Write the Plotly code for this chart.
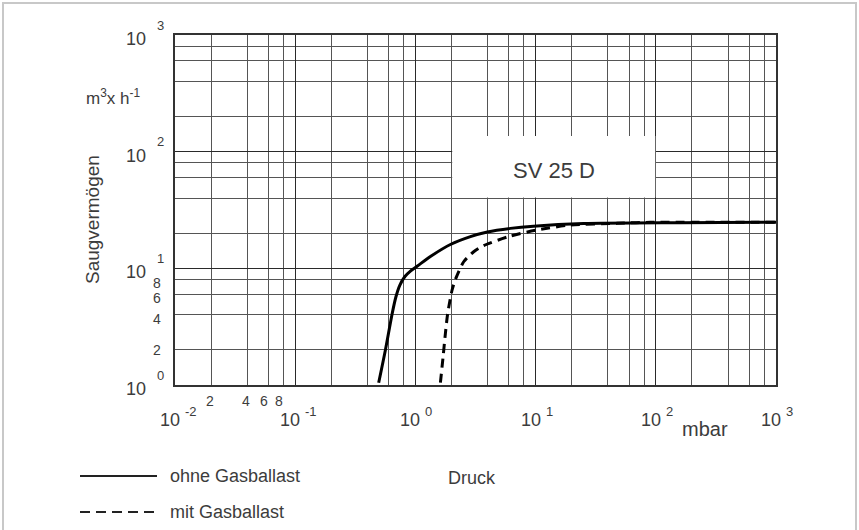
import math
import plotly.graph_objects as go

# ---------------- data ----------------
p_ohne = [0.495, 0.563, 0.640, 0.688, 0.743, 0.818, 0.909, 1.039, 1.333, 1.955, 2.87, 3.97, 6.17, 9.6, 25.0, 158, 1000]
s_ohne = [1.046, 1.995, 4.06, 5.68, 7.19, 8.51, 9.48, 10.46, 12.62, 16.0, 18.7, 20.5, 22.0, 23.0, 24.2, 24.6, 24.8]

p_mit = [1.615, 1.70, 1.777, 1.857, 2.02, 2.151, 2.522, 3.055, 3.70, 6.17, 10.3, 19.5, 47.6, 90, 1000]
s_mit = [1.046, 1.748, 2.773, 4.115, 6.52, 8.02, 11.39, 13.88, 15.68, 18.9, 21.3, 23.5, 24.3, 24.8, 24.8]

x_decades = [-2, -1, 0, 1, 2, 3]
x_sup_text = ["-2", "-1", "0", "1", "2", "3"]
y_decades = [0, 1, 2, 3]
y_sup_text = ["0", "1", "2", "3"]
minor_digits = [2, 4, 6, 8]
minor_labels = ["2", "4", "6", "8"]

series_names = ["ohne Gasballast", "mit Gasballast"]
y_title = "Saugvermögen"
y_unit = "m<sup>3</sup>x h<sup>-1</sup>"
x_unit = "mbar"
x_title = "Druck"
box_text = "SV 25 D"
box_x = [2, 100]
box_y = [40, 136]

FONT = "Liberation Sans"
TXT = "#3c3c3c"
GRID_MAJ = "#2a2a2a"
GRID_MIN = "#555555"

# ---------------- figure ----------------
W, H = 859, 530
L, R, T, B = 175, 83, 35, 145
PW, PH = W - L - R, H - T - B


def px(x):
    return (x - L) / PW


def py(y):
    return (T + PH - y) / PH


fig = go.Figure()
fig.add_trace(go.Scatter(x=p_ohne, y=s_ohne, mode="lines", name=series_names[0],
                         line=dict(color="black", width=3, shape="spline", smoothing=0.7),
                         showlegend=False))
fig.add_trace(go.Scatter(x=p_mit, y=s_mit, mode="lines", name=series_names[1],
                         line=dict(color="black", width=3, dash="9px,6px", shape="spline", smoothing=0.7),
                         showlegend=False))

x_major = [10 ** k for k in x_decades]
x_minor = [d * 10 ** k for k in x_decades[:-1] for d in minor_digits]
y_major = [10 ** k for k in y_decades]
y_minor = [d * 10 ** k for k in y_decades[:-1] for d in minor_digits]

fig.update_xaxes(type="log", range=[x_decades[0], x_decades[-1]],
                 tickmode="array", tickvals=x_major, showticklabels=False, ticks="",
                 showgrid=True, gridcolor=GRID_MAJ, gridwidth=1.2,
                 minor=dict(tickmode="array", tickvals=x_minor, showgrid=True,
                            gridcolor=GRID_MIN, gridwidth=1.2, ticks=""),
                 showline=True, mirror=True, linecolor="#333333", linewidth=1.5,
                 zeroline=False)
fig.update_yaxes(type="log", range=[y_decades[0], y_decades[-1]],
                 tickmode="array", tickvals=y_major, showticklabels=False, ticks="",
                 showgrid=True, gridcolor=GRID_MAJ, gridwidth=1.2,
                 minor=dict(tickmode="array", tickvals=y_minor, showgrid=True,
                            gridcolor=GRID_MIN, gridwidth=1.2, ticks=""),
                 showline=True, mirror=True, linecolor="#333333", linewidth=1.5,
                 zeroline=False)

ann = []


def A(text, x, y, size, xref="paper", yref="paper", xanchor="center", yanchor="middle",
      xshift=0, yshift=0, angle=0):
    ann.append(dict(text=text, x=x, y=y, xref=xref, yref=yref, xanchor=xanchor,
                    yanchor=yanchor, xshift=xshift, yshift=yshift, showarrow=False,
                    textangle=angle, font=dict(family=FONT, size=size, color=TXT)))


# y decade labels
for k, s in zip(y_decades, y_sup_text):
    A("10", px(148), k, 18, yref="y", xanchor="right", yshift=-4)
    A(s, px(155), k, 13, yref="y", xanchor="left", yshift=10)
# y minor labels (first decade only)
y_min_shift = [0, -4, -4, -3]
for d, t, sh in zip(minor_digits, minor_labels, y_min_shift):
    A(t, px(157), math.log10(d), 14, yref="y", yshift=sh)

# x decade labels
for k, s in zip(x_decades, x_sup_text):
    A("10", k, py(420), 18, xref="x", xshift=-5)
    A(s, k, py(411), 13, xref="x", xanchor="left", xshift=8)
# x minor labels (first decade only)
x_min_shift = [-1, -1, -4.5, -5]
for d, t, sh in zip(minor_digits, minor_labels, x_min_shift):
    A(t, math.log10(d) + x_decades[0], py(401), 14, xref="x", xshift=sh)

A(y_unit, px(113), py(97), 17)
A(y_title, px(92), py(220), 19, angle=-90)
A(x_unit, px(705), py(429), 20)
A(x_title, px(472), py(478), 18)
A(box_text, math.log10(math.sqrt(box_x[0] * box_x[1])), py(170), 22, xref="x")

# legend
A(series_names[0], px(168), py(476), 18, xanchor="left")
A(series_names[1], px(168), py(512), 18, xanchor="left")

shapes = [
    # text box hiding the grid
    dict(type="rect", xref="x", yref="y", x0=box_x[0] * 1.012, x1=box_x[1] * 0.99,
         y0=box_y[0] * 1.012, y1=box_y[1], fillcolor="white", line=dict(width=0), layer="above"),
    # legend samples
    dict(type="line", xref="paper", yref="paper", x0=px(80), x1=px(157), y0=py(476), y1=py(476),
         line=dict(color="#222222", width=2)),
    dict(type="line", xref="paper", yref="paper", x0=px(80), x1=px(157), y0=py(512), y1=py(512),
         line=dict(color="#222222", width=2, dash="10px,6px")),
    # outer frame
    dict(type="rect", xref="paper", yref="paper", x0=px(3), x1=px(856), y0=py(3), y1=py(540),
         line=dict(color="#c8c8c8", width=2), fillcolor="rgba(0,0,0,0)"),
]

fig.update_layout(width=W, height=H, margin=dict(l=L, r=R, t=T, b=B),
                  paper_bgcolor="white", plot_bgcolor="white",
                  annotations=ann, shapes=shapes, showlegend=False)

fig.write_html("out.html", config={"displayModeBar": False},
               post_script="document.body.style.margin='0';")
